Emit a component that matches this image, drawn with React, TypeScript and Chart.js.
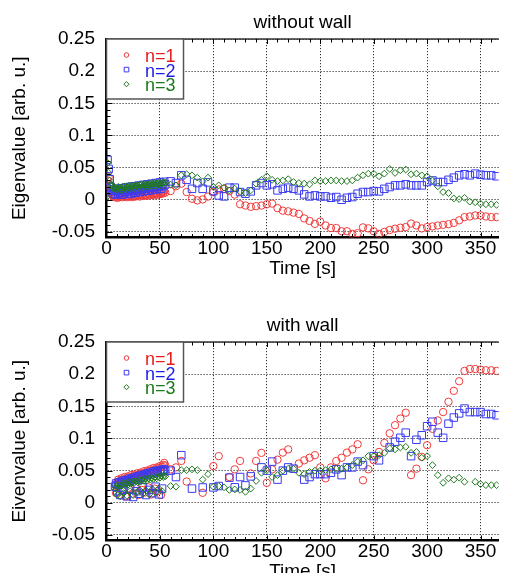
import React, { useEffect, useRef } from 'react';
import { Chart, registerables } from 'chart.js';

Chart.register(...registerables);

const FONT = "'Liberation Sans', Arial, Helvetica, sans-serif";

const seriesLabels = ['n=1', 'n=2', 'n=3'];
const markerColors = ['#f03a3a', '#3a3af0', '#1f7a1f'];
const textColors = ['#e81c1c', '#1c1ce8', '#1a7a1a'];
const markerStyles = ['circle', 'rect', 'rectRot'];

const xTickLabels = ['0', '50', '100', '150', '200', '250', '300', '350'];
const yTickLabels = ['-0.05', '0', '0.05', '0.1', '0.15', '0.2', '0.25'];

const denseTimeTop = [0, 1, 2, 3, 4, 5, 6, 7, 8, 9, 10, 11, 12, 13, 14, 15, 16, 17, 18, 19, 20, 21, 22, 23, 24, 25, 26, 27, 28, 29, 30, 31, 32, 33, 34, 35, 36, 37, 38, 39, 40, 41, 42, 43, 44, 45, 46, 47, 48, 49, 50, 51, 52, 53, 54, 55];
const denseTimeBottom = [8, 9, 10, 11, 12, 13, 14, 15, 16, 17, 18, 19, 20, 21, 22, 23, 24, 25, 26, 27, 28, 29, 30, 31, 32, 33, 34, 35, 36, 37, 38, 39, 40, 41, 42, 43, 44, 45, 46, 47, 48, 49, 50, 51, 52, 53, 54, 55];
const sparseTime = [60, 65, 70, 75, 80, 85, 90, 95, 100, 105, 110, 115, 120, 125, 130, 135, 140, 145, 150, 155, 160, 165, 170, 175, 180, 185, 190, 195, 200, 205, 210, 215, 220, 225, 230, 235, 240, 245, 250, 255, 260, 265, 270, 275, 280, 285, 290, 295, 300, 305, 310, 315, 320, 325, 330, 335, 340, 345, 350, 355, 360, 365];

// ---- without wall ----
const topN1Dense = [0.022, 0.030, 0.035, 0.022, 0.012, 0.008, 0.006, 0.004, 0.007, 0.005, 0.003, 0.006, 0.004, 0.008, 0.005, 0.004, 0.007, 0.005, 0.009, 0.004, 0.006, 0.005, 0.008, 0.006, 0.004, 0.009, 0.006, 0.005, 0.010, 0.006, 0.007, 0.005, 0.009, 0.007, 0.006, 0.011, 0.007, 0.008, 0.006, 0.010, 0.008, 0.007, 0.012, 0.008, 0.009, 0.007, 0.011, 0.009, 0.008, 0.013, 0.010, 0.009, 0.012, 0.010, 0.014, 0.011];
const topN2Dense = [0.018, 0.062, 0.048, 0.032, 0.020, 0.014, 0.010, 0.016, 0.008, 0.013, 0.017, 0.009, 0.014, 0.011, 0.018, 0.008, 0.015, 0.012, 0.019, 0.010, 0.015, 0.013, 0.020, 0.009, 0.016, 0.014, 0.021, 0.011, 0.017, 0.015, 0.022, 0.012, 0.018, 0.016, 0.023, 0.013, 0.019, 0.017, 0.024, 0.014, 0.020, 0.018, 0.025, 0.015, 0.021, 0.019, 0.026, 0.016, 0.022, 0.020, 0.027, 0.017, 0.023, 0.021, 0.028, 0.024];
const topN3Dense = [0.004, 0.057, 0.042, 0.030, 0.024, 0.021, 0.019, 0.017, 0.019, 0.016, 0.018, 0.020, 0.017, 0.019, 0.015, 0.020, 0.018, 0.021, 0.016, 0.020, 0.019, 0.022, 0.017, 0.021, 0.020, 0.022, 0.018, 0.022, 0.021, 0.023, 0.019, 0.023, 0.022, 0.024, 0.019, 0.023, 0.022, 0.024, 0.020, 0.024, 0.023, 0.025, 0.021, 0.025, 0.024, 0.026, 0.021, 0.025, 0.025, 0.026, 0.022, 0.026, 0.025, 0.027, 0.023, 0.027];
const topN1Sparse = [0.0135, 0.021, 0.025, 0.012, 0.0016, -0.001, 0.0005, 0.005, 0.012, 0.016, 0.017, 0.0135, 0.008, -0.007, -0.009, -0.011, -0.010, -0.009, -0.007, -0.006, -0.013, -0.017, -0.018, -0.020, -0.022, -0.029, -0.033, -0.0375, -0.034, -0.040, -0.044, -0.044, -0.049, -0.049, -0.053, -0.052, -0.043, -0.0445, -0.049, -0.053, -0.050, -0.047, -0.045, -0.0435, -0.0425, -0.037, -0.040, -0.0446, -0.0425, -0.0415, -0.040, -0.039, -0.038, -0.036, -0.032, -0.027, -0.026, -0.0244, -0.0244, -0.026, -0.027, -0.027];
const topN2Sparse = [0.0286, 0.026, 0.038, 0.031, 0.017, 0.026, 0.017, 0.027, 0.0135, 0.0068, 0.0052, 0.0188, 0.0188, 0.012, 0.0094, 0.013, 0.0224, 0.026, 0.0224, 0.024, 0.0146, 0.017, 0.0188, 0.017, 0.0146, 0.0083, 0.0052, 0.0068, 0.0052, 0.0052, 0.0031, 0.0042, 0.0, 0.0031, 0.0042, 0.0094, 0.012, 0.012, 0.0135, 0.013, 0.017, 0.0198, 0.0224, 0.0224, 0.024, 0.0224, 0.0224, 0.0224, 0.0276, 0.030, 0.0276, 0.0276, 0.031, 0.0344, 0.038, 0.0396, 0.038, 0.0406, 0.039, 0.038, 0.038, 0.0365];
const topN3Sparse = [0.0234, 0.0224, 0.038, 0.0396, 0.038, 0.0344, 0.0286, 0.0344, 0.0198, 0.0224, 0.0188, 0.0146, 0.0172, 0.013, 0.0104, 0.0146, 0.025, 0.031, 0.0365, 0.031, 0.029, 0.030, 0.032, 0.0276, 0.026, 0.025, 0.024, 0.030, 0.029, 0.029, 0.030, 0.030, 0.029, 0.029, 0.030, 0.0344, 0.038, 0.0406, 0.0406, 0.0365, 0.0406, 0.048, 0.0417, 0.0458, 0.047, 0.0396, 0.0406, 0.038, 0.0365, 0.030, 0.0208, 0.012, 0.0104, 0.002, 0.001, 0.003, -0.003, -0.004, -0.006, -0.007, -0.007, -0.008];

// ---- with wall ----
const bottomN1Dense = [0.028, 0.015, 0.032, 0.036, 0.012, 0.034, 0.038, 0.020, 0.036, 0.040, 0.010, 0.038, 0.041, 0.022, 0.039, 0.043, 0.014, 0.041, 0.044, 0.025, 0.042, 0.046, 0.012, 0.044, 0.047, 0.020, 0.045, 0.049, 0.016, 0.047, 0.050, 0.024, 0.049, 0.052, 0.013, 0.050, 0.054, 0.022, 0.052, 0.055, 0.018, 0.054, 0.057, 0.012, 0.056, 0.059, 0.062, 0.058];
const bottomN2Dense = [0.025, 0.030, 0.018, 0.028, 0.032, 0.012, 0.030, 0.034, 0.020, 0.032, 0.035, 0.010, 0.033, 0.037, 0.022, 0.035, 0.038, 0.009, 0.036, 0.040, 0.018, 0.038, 0.041, 0.014, 0.039, 0.043, 0.024, 0.041, 0.044, 0.012, 0.043, 0.046, 0.020, 0.044, 0.047, 0.015, 0.046, 0.049, 0.025, 0.047, 0.050, 0.013, 0.048, 0.051, 0.022, 0.050, 0.052, 0.049];
const bottomN3Dense = [0.022, 0.026, 0.012, 0.024, 0.028, 0.010, 0.026, 0.029, 0.015, 0.027, 0.031, 0.011, 0.028, 0.032, 0.018, 0.030, 0.033, 0.012, 0.031, 0.034, 0.016, 0.032, 0.035, 0.020, 0.033, 0.036, 0.014, 0.034, 0.037, 0.019, 0.035, 0.038, 0.013, 0.036, 0.039, 0.021, 0.037, 0.040, 0.016, 0.038, 0.041, 0.022, 0.039, 0.042, 0.018, 0.040, 0.043, 0.041];
const bottomN1Sparse = [0.052, 0.055, 0.065, 0.033, null, null, 0.0155, null, 0.057, 0.0725, null, 0.040, 0.052, 0.065, null, 0.0455, 0.065, 0.0776, 0.031, 0.052, 0.067, 0.078, 0.083, null, 0.061, 0.066, 0.070, 0.074, 0.055, 0.038, 0.055, 0.065, 0.070, 0.078, 0.083, 0.091, 0.035, 0.052, 0.066, 0.079, 0.093, 0.108, 0.1206, 0.131, 0.14, 0.043, 0.053, 0.0714, 0.0895, 0.115, 0.128, 0.141, 0.157, 0.174, 0.189, 0.205, 0.208, 0.208, 0.207, 0.206, 0.206, 0.205];
const bottomN2Sparse = [0.050, 0.040, 0.074, null, 0.022, null, 0.0238, null, 0.0238, 0.026, null, 0.039, 0.024, 0.040, 0.027, 0.041, null, 0.055, 0.050, 0.064, 0.036, 0.050, 0.055, 0.053, null, 0.036, 0.040, 0.0445, 0.0445, 0.0445, 0.0466, 0.052, 0.043, 0.055, 0.055, 0.064, 0.0585, null, 0.0725, 0.066, null, 0.086, 0.095, 0.101, 0.109, 0.0725, 0.098, 0.105, 0.119, 0.126, 0.109, 0.101, 0.123, 0.1325, 0.139, 0.1465, 0.141, 0.141, 0.141, 0.138, 0.138, 0.136];
const bottomN3Sparse = [0.026, 0.025, 0.0507, 0.0507, 0.052, 0.0507, 0.036, 0.0445, 0.025, 0.026, 0.024, 0.020, 0.0207, 0.020, 0.017, 0.022, 0.034, 0.0466, 0.0507, 0.040, 0.043, 0.050, 0.053, 0.053, 0.0466, 0.0445, 0.048, 0.050, 0.050, 0.0507, 0.052, 0.053, 0.053, 0.055, 0.0585, 0.064, 0.066, 0.0725, 0.0725, 0.074, 0.0776, 0.0844, 0.083, 0.086, 0.087, 0.0776, 0.079, 0.070, 0.0725, 0.0585, 0.043, 0.031, 0.038, 0.036, 0.039, 0.0326, null, 0.0326, 0.029, 0.0274, 0.0274, 0.0274];

const X_MIN = 0;
const X_MAX = 367;
const Y_MIN = -0.0587;
const Y_MAX = 0.25;

type Pt = { x: number; y: number };

function toPoints(times: number[], values: (number | null)[]): Pt[] {
  const out: Pt[] = [];
  times.forEach((t, i) => {
    const v = values[i];
    if (v !== null && v !== undefined) out.push({ x: t, y: v });
  });
  return out;
}

const decorPlugin = {
  id: 'decor',
  afterDatasetsDraw(chart: any) {
    const { ctx, chartArea: a, scales } = chart;
    const xs = scales.x;
    const ys = scales.y;
    ctx.save();
    // top frame line
    ctx.strokeStyle = '#333';
    ctx.lineWidth = 1.6;
    ctx.beginPath();
    ctx.moveTo(a.left, a.top);
    ctx.lineTo(a.right, a.top);
    ctx.stroke();
    // minor ticks (inward)
    ctx.strokeStyle = '#000';
    ctx.lineWidth = 1;
    for (let v = 10; v < X_MAX; v += 10) {
      const px = Math.round(xs.getPixelForValue(v)) + 0.5;
      const len = v % 50 === 0 ? 5 : 3.5;
      ctx.beginPath();
      ctx.moveTo(px, a.top);
      ctx.lineTo(px, a.top + len);
      ctx.moveTo(px, a.bottom);
      ctx.lineTo(px, a.bottom - len);
      ctx.stroke();
    }
    for (let k = -5; k <= 25; k++) {
      const py = Math.round(ys.getPixelForValue(k / 100)) + 0.5;
      const len = k % 5 === 0 ? 6 : 4;
      ctx.beginPath();
      ctx.moveTo(a.left, py);
      ctx.lineTo(a.left + len, py);
      ctx.stroke();
    }
    // legend box
    const bx = a.left;
    const by = a.top;
    const bw = 77;
    const bh = 60;
    ctx.fillStyle = '#fff';
    ctx.fillRect(bx, by, bw, bh);
    ctx.strokeStyle = '#555';
    ctx.lineWidth = 1.5;
    ctx.strokeRect(bx, by, bw, bh);
    ctx.font = `18px ${FONT}`;
    ctx.textBaseline = 'middle';
    ctx.textAlign = 'left';
    chart.data.datasets.forEach((ds: any, i: number) => {
      const idx = seriesLabels.indexOf(ds.label);
      const row = idx < 0 ? i : idx;
      const my = by + 16 + row * 14.6;
      const mx = bx + 20;
      ctx.strokeStyle = ds.borderColor;
      ctx.lineWidth = 1;
      ctx.beginPath();
      if (ds.pointStyle === 'circle') {
        ctx.arc(mx, my, 2.3, 0, Math.PI * 2);
      } else if (ds.pointStyle === 'rect') {
        ctx.rect(mx - 2.3, my - 2.3, 4.6, 4.6);
      } else {
        ctx.moveTo(mx, my - 2.6);
        ctx.lineTo(mx + 2.6, my);
        ctx.lineTo(mx, my + 2.6);
        ctx.lineTo(mx - 2.6, my);
        ctx.closePath();
      }
      ctx.stroke();
      ctx.fillStyle = textColors[row];
      ctx.fillText(ds.label, bx + 38.5, my + 2);
    });
    ctx.restore();
  },
};

function makeConfig(title: string, yTitle: string, series: Pt[][]) {
  const font = { family: FONT, size: 19, weight: 'normal' as const };
  const radii = [3.7, 5.3, 3.4];
  const orders = [3, 2, 1];
  return {
    type: 'scatter' as const,
    data: {
      datasets: series.map((pts, i) => ({
        label: seriesLabels[i],
        data: pts,
        borderColor: markerColors[i],
        backgroundColor: 'rgba(0,0,0,0)',
        pointStyle: markerStyles[i],
        pointRadius: radii[i],
        pointBorderWidth: 1,
        pointHoverRadius: radii[i],
        order: orders[i],
        showLine: false,
      })),
    },
    options: {
      responsive: false,
      animation: false as const,
      events: [],
      layout: { padding: 0 },
      plugins: {
        legend: { display: false },
        tooltip: { enabled: false },
        title: {
          display: true,
          text: title,
          fullSize: false,
          color: '#000',
          font,
          padding: { top: 11, bottom: 5.2 },
        },
      },
      scales: {
        x: {
          type: 'linear' as const,
          min: X_MIN,
          max: X_MAX,
          afterFit: (s: any) => {
            s.height = 42.5;
          },
          ticks: {
            stepSize: 50,
            includeBounds: false,
            padding: 0,
            maxRotation: 0,
            autoSkip: false,
            color: '#000',
            font,
            callback: (v: number) => {
              const lbl = xTickLabels.find((l) => Number(l) === v);
              return lbl ?? '';
            },
          },
          grid: { drawTicks: false, color: '#333', lineWidth: 1 },
          border: { display: true, width: 2.5, color: '#000', dash: [1.2, 1.8] },
          title: {
            display: true,
            text: 'Time [s]',
            color: '#000',
            font,
            padding: { top: 6.6, bottom: 0 },
          },
        },
        y: {
          type: 'linear' as const,
          min: Y_MIN,
          max: Y_MAX,
          afterFit: (s: any) => {
            s.width = 106.5;
          },
          ticks: {
            stepSize: 0.05,
            includeBounds: false,
            padding: 11.5,
            color: '#000',
            font,
            callback: (v: number) => {
              const lbl = yTickLabels.find((l) => Math.abs(Number(l) - v) < 1e-9);
              return lbl ?? '';
            },
          },
          grid: { drawTicks: false, color: '#333', lineWidth: 1 },
          border: { display: true, width: 2.5, color: '#000', dash: [1.2, 1.8] },
          title: {
            display: true,
            text: yTitle,
            color: '#000',
            font,
            padding: { top: 8.3, bottom: 0 },
          },
        },
      },
    },
    plugins: [decorPlugin],
  };
}

function Panel(props: { title: string; yTitle: string; series: Pt[][]; top: number }) {
  const ref = useRef<HTMLCanvasElement | null>(null);
  useEffect(() => {
    if (!ref.current) return;
    const chart = new Chart(ref.current, makeConfig(props.title, props.yTitle, props.series) as any);
    return () => chart.destroy();
  }, []);
  return (
    <canvas
      ref={ref}
      width={505}
      height={280}
      style={{ position: 'absolute', left: 0, top: props.top, width: 505, height: 280 }}
    />
  );
}

export default function App() {
  const topSeries = [
    toPoints(denseTimeTop, topN1Dense).concat(toPoints(sparseTime, topN1Sparse)),
    toPoints(denseTimeTop, topN2Dense).concat(toPoints(sparseTime, topN2Sparse)),
    toPoints(denseTimeTop, topN3Dense).concat(toPoints(sparseTime, topN3Sparse)),
  ];
  const bottomSeries = [
    toPoints(denseTimeBottom, bottomN1Dense).concat(toPoints(sparseTime, bottomN1Sparse)),
    toPoints(denseTimeBottom, bottomN2Dense).concat(toPoints(sparseTime, bottomN2Sparse)),
    toPoints(denseTimeBottom, bottomN3Dense).concat(toPoints(sparseTime, bottomN3Sparse)),
  ];
  return (
    <div
      style={{
        position: 'fixed',
        left: 0,
        top: 0,
        width: 505,
        height: 573,
        overflow: 'hidden',
        background: '#fff',
      }}
    >
      <Panel title="without wall" yTitle="Eigenvalue [arb. u.]" series={topSeries} top={0} />
      <Panel title="with wall" yTitle="Eivenvalue [arb. u.]" series={bottomSeries} top={303} />
    </div>
  );
}
